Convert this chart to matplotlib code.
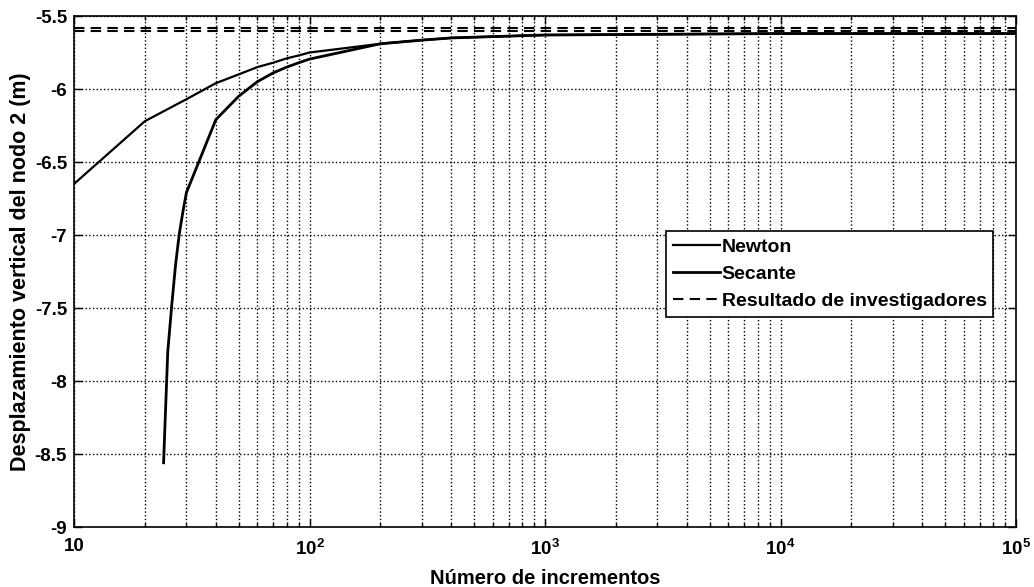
import numpy as np
import matplotlib.pyplot as plt
from matplotlib.ticker import FixedLocator, FixedFormatter, LogLocator, NullFormatter

plt.rcParams['font.family'] = ['Liberation Sans', 'DejaVu Sans']
plt.rcParams['font.weight'] = 'bold'
plt.rcParams['mathtext.fontset'] = 'custom'
plt.rcParams['mathtext.rm'] = 'Liberation Sans:bold'
plt.rcParams['mathtext.bf'] = 'Liberation Sans:bold'

# numero de incrementos y desplazamientos
n_newton = [10, 20, 30, 40, 50, 60, 70, 80, 90, 100, 200, 300, 400, 500,
            1000, 10000, 100000]
u_newton = [-6.65, -6.22, -6.07, -5.96, -5.90, -5.85, -5.82, -5.79, -5.77,
            -5.75, -5.69, -5.665, -5.65, -5.645, -5.63, -5.62, -5.62]

n_secante = [24, 25, 26, 27, 28, 29, 30, 40, 50, 60, 70, 80, 90, 100, 200,
             300, 400, 500, 1000, 10000, 100000]
u_secante = [-8.56, -7.80, -7.48, -7.20, -6.99, -6.84, -6.71, -6.21, -6.05,
             -5.95, -5.89, -5.85, -5.82, -5.795, -5.69, -5.665, -5.65, -5.645,
             -5.63, -5.62, -5.62]

n_ref = [10, 100000]
u_ref_1 = [-5.605, -5.605]
u_ref_2 = [-5.58, -5.58]

xtick_vals = [10, 100, 1000, 10000, 100000]
xtick_labels = ['10', r'$10^2$', r'$10^3$', r'$10^4$', r'$10^5$']
ytick_vals = [-9, -8.5, -8, -7.5, -7, -6.5, -6, -5.5]
ytick_labels = ['-9', '-8.5', '-8', '-7.5', '-7', '-6.5', '-6', '-5.5']

fig = plt.figure(figsize=(10.34, 5.87), dpi=100)
ax = fig.add_axes([0.0716, 0.1022, 0.911, 0.8705])

ax.semilogx(n_newton, u_newton, color='black', lw=1.6, label='Newton')
ax.semilogx(n_secante, u_secante, color='black', lw=2.0, label='Secante')
ax.semilogx(n_ref, u_ref_1, color='black', lw=1.5, ls=(0, (5, 3)),
            label='Resultado de investigadores')
ax.semilogx(n_ref, u_ref_2, color='black', lw=1.5, ls=(0, (5, 3)))

ax.set_xlim(10, 100000)
ax.set_ylim(-9, -5.5)

ax.xaxis.set_major_locator(FixedLocator(xtick_vals))
ax.xaxis.set_major_formatter(FixedFormatter(xtick_labels))
ax.xaxis.set_minor_locator(LogLocator(base=10, subs=np.arange(2, 10)))
ax.xaxis.set_minor_formatter(NullFormatter())
ax.yaxis.set_major_locator(FixedLocator(ytick_vals))
ax.yaxis.set_major_formatter(FixedFormatter(ytick_labels))

ax.tick_params(which='both', direction='in', top=True, right=True,
               labelsize=13.5, width=1)
ax.tick_params(which='major', length=6, pad=5)
ax.tick_params(axis='x', which='major', pad=8)
ax.tick_params(which='minor', length=3)

ax.grid(True, which='major', color='black', ls=':', lw=1)
ax.grid(True, which='minor', axis='x', color='black', ls=':', lw=1)
for s in ax.spines.values():
    s.set_linewidth(1.2)

ax.set_xlabel('Número de incrementos', fontsize=14.5, fontweight='bold',
              labelpad=7)
ax.set_ylabel('Desplazamiento vertical del nodo 2 (m)', fontsize=15.5,
              fontweight='bold', labelpad=3)

leg = ax.legend(loc='upper right', bbox_to_anchor=(0.976, 0.579),
                fontsize=14, frameon=True, fancybox=False, framealpha=1,
                edgecolor='black', handlelength=2.4, handletextpad=0.1,
                labelspacing=0.5, borderpad=0.35, borderaxespad=0)
leg.get_frame().set_linewidth(1.2)

fig.savefig('out.png', dpi=100)
